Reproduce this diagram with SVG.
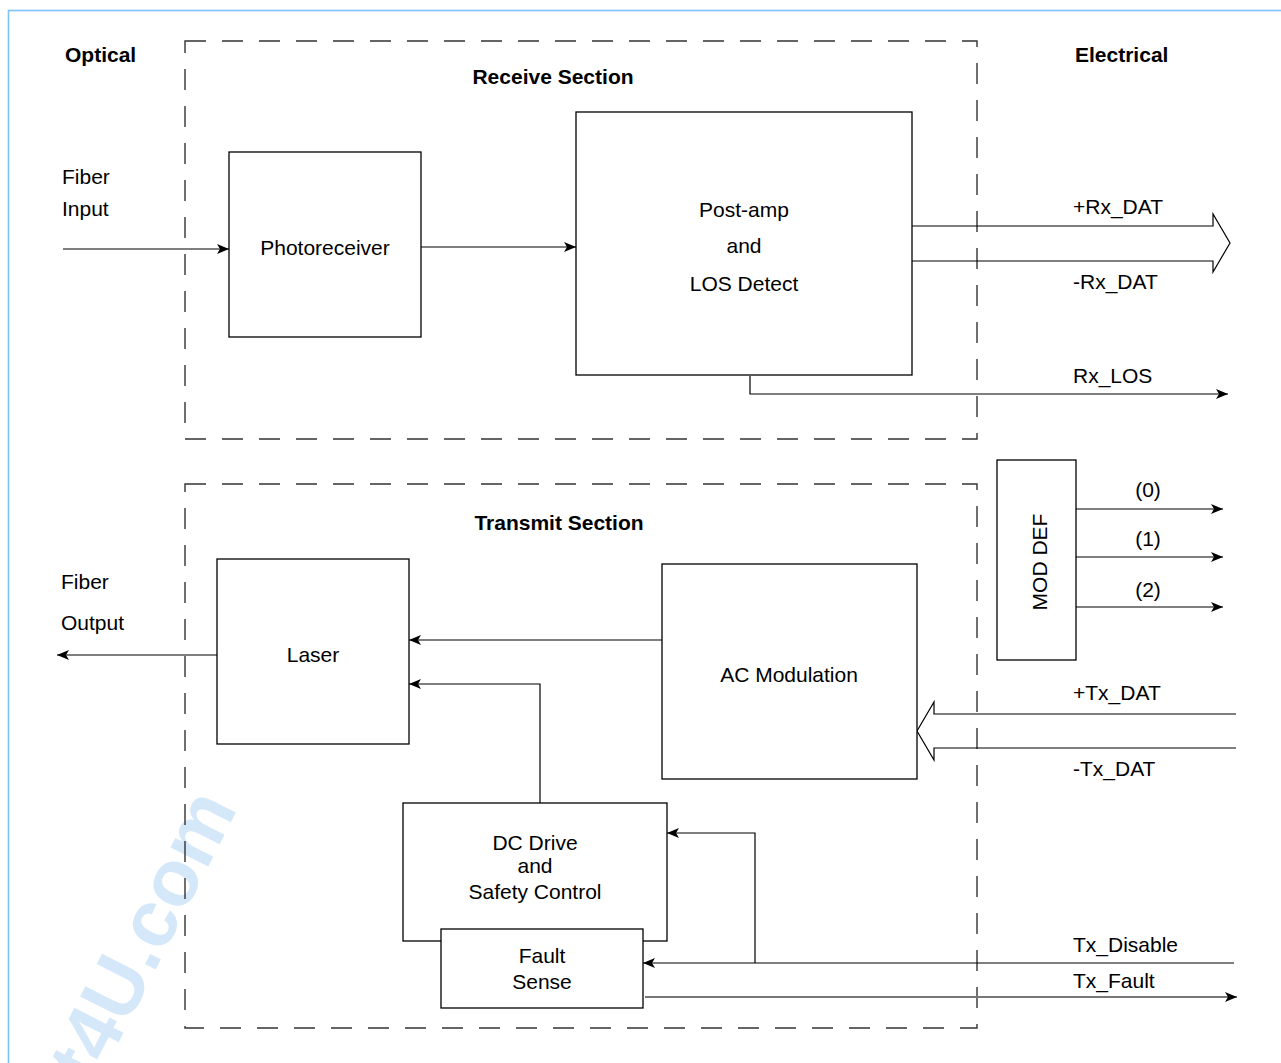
<svg xmlns="http://www.w3.org/2000/svg" width="1281" height="1063" viewBox="0 0 1281 1063">
<style>
.t{font-family:"Liberation Sans",Arial,sans-serif;font-size:21px;fill:#000}
.b{font-weight:bold;font-size:21px}
.m{text-anchor:middle}
.box{fill:#fff;stroke:#000;stroke-width:1.3}
.dash{fill:none;stroke:#333;stroke-width:1.4;stroke-dasharray:21 16}
.ln{fill:none;stroke:#000;stroke-width:1.2}
</style>
<defs>
<marker id="ah" viewBox="0 0 12 10" refX="12" refY="5" markerWidth="12" markerHeight="10" markerUnits="userSpaceOnUse" orient="auto">
<path d="M0,0 L12,5 L0,10 L3,5 Z" fill="#000"/>
</marker>
</defs>
<rect x="0" y="0" width="1281" height="1063" fill="#fff"/>
<rect x="8.5" y="10.5" width="1300" height="1100" fill="none" stroke="#7cc4f7" stroke-width="1.6"/>
<text class="t" x="0" y="0" transform="translate(238,808) rotate(-63)" text-anchor="end" style="font-size:80px;font-weight:bold;fill:#d5e8fa">DataSheet4U.com</text>

<g id="receive-section">
<rect class="dash" x="185" y="41" width="792" height="398"/>
<text class="t b m" x="553" y="84">Receive Section</text>
</g>
<g id="transmit-section">
<rect class="dash" x="185" y="484" width="792" height="544"/>
<text class="t b m" x="559" y="530">Transmit Section</text>
</g>
<g id="side-labels">
<text class="t b" x="65" y="62">Optical</text>
<text class="t b" x="1075" y="62">Electrical</text>
<text class="t" x="62" y="184">Fiber</text>
<text class="t" x="62" y="216">Input</text>
<text class="t" x="61" y="589">Fiber</text>
<text class="t" x="61" y="630">Output</text>
</g>

<g id="connectors">
<line class="ln" x1="63" y1="249" x2="229" y2="249" marker-end="url(#ah)"/>
<line class="ln" x1="421" y1="247" x2="576" y2="247" marker-end="url(#ah)"/>
<path class="ln" d="M912,226 H1213 V214 L1230,243 L1213,272 V261 H912"/>
<polyline class="ln" points="750,376 750,394 1228,394" marker-end="url(#ah)"/>
<line class="ln" x1="1076" y1="509" x2="1223" y2="509" marker-end="url(#ah)"/>
<line class="ln" x1="1076" y1="557" x2="1223" y2="557" marker-end="url(#ah)"/>
<line class="ln" x1="1076" y1="607" x2="1223" y2="607" marker-end="url(#ah)"/>
<path class="ln" d="M1236,714 H934 V702 L917,731 L934,760 V748 H1236"/>
<line class="ln" x1="662" y1="640" x2="409" y2="640" marker-end="url(#ah)"/>
<polyline class="ln" points="540,803 540,684 409,684" marker-end="url(#ah)"/>
<line class="ln" x1="217" y1="655" x2="57" y2="655" marker-end="url(#ah)"/>
<line class="ln" x1="1234" y1="963" x2="643" y2="963" marker-end="url(#ah)"/>
<polyline class="ln" points="755,963 755,833 667,833" marker-end="url(#ah)"/>
<line x1="645" y1="997" x2="1237" y2="997" stroke="#777" stroke-width="2" marker-end="url(#ah)"/>
<text class="t" x="1073" y="214">+Rx_DAT</text>
<text class="t" x="1073" y="289">-Rx_DAT</text>
<text class="t" x="1073" y="383">Rx_LOS</text>
<text class="t m" x="1148" y="497">(0)</text>
<text class="t m" x="1148" y="546">(1)</text>
<text class="t m" x="1148" y="597">(2)</text>
<text class="t" x="1073" y="700">+Tx_DAT</text>
<text class="t" x="1073" y="776">-Tx_DAT</text>
<text class="t" x="1073" y="952">Tx_Disable</text>
<text class="t" x="1073" y="988">Tx_Fault</text>
</g>

<g id="photoreceiver">
<rect class="box" x="229" y="152" width="192" height="185"/>
<text class="t m" x="325" y="255">Photoreceiver</text>
</g>
<g id="postamp">
<rect class="box" x="576" y="112" width="336" height="263"/>
<text class="t m" x="744" y="217">Post-amp</text>
<text class="t m" x="744" y="253">and</text>
<text class="t m" x="744" y="291">LOS Detect</text>
</g>
<g id="moddef">
<rect class="box" x="997" y="460" width="79" height="200"/>
<text class="t m" x="0" y="0" transform="translate(1047,562) rotate(-90)">MOD DEF</text>
</g>
<g id="ac-modulation">
<rect class="box" x="662" y="564" width="255" height="215"/>
<text class="t m" x="789" y="682">AC Modulation</text>
</g>
<g id="laser">
<rect class="box" x="217" y="559" width="192" height="185"/>
<text class="t m" x="313" y="662">Laser</text>
</g>
<g id="dc-drive">
<rect class="box" x="403" y="803" width="264" height="138"/>
<text class="t m" x="535" y="850">DC Drive</text>
<text class="t m" x="535" y="873">and</text>
<text class="t m" x="535" y="899">Safety Control</text>
</g>
<g id="fault-sense">
<rect class="box" x="441" y="929" width="202" height="79"/>
<text class="t m" x="542" y="963">Fault</text>
<text class="t m" x="542" y="989">Sense</text>
</g>
</svg>
